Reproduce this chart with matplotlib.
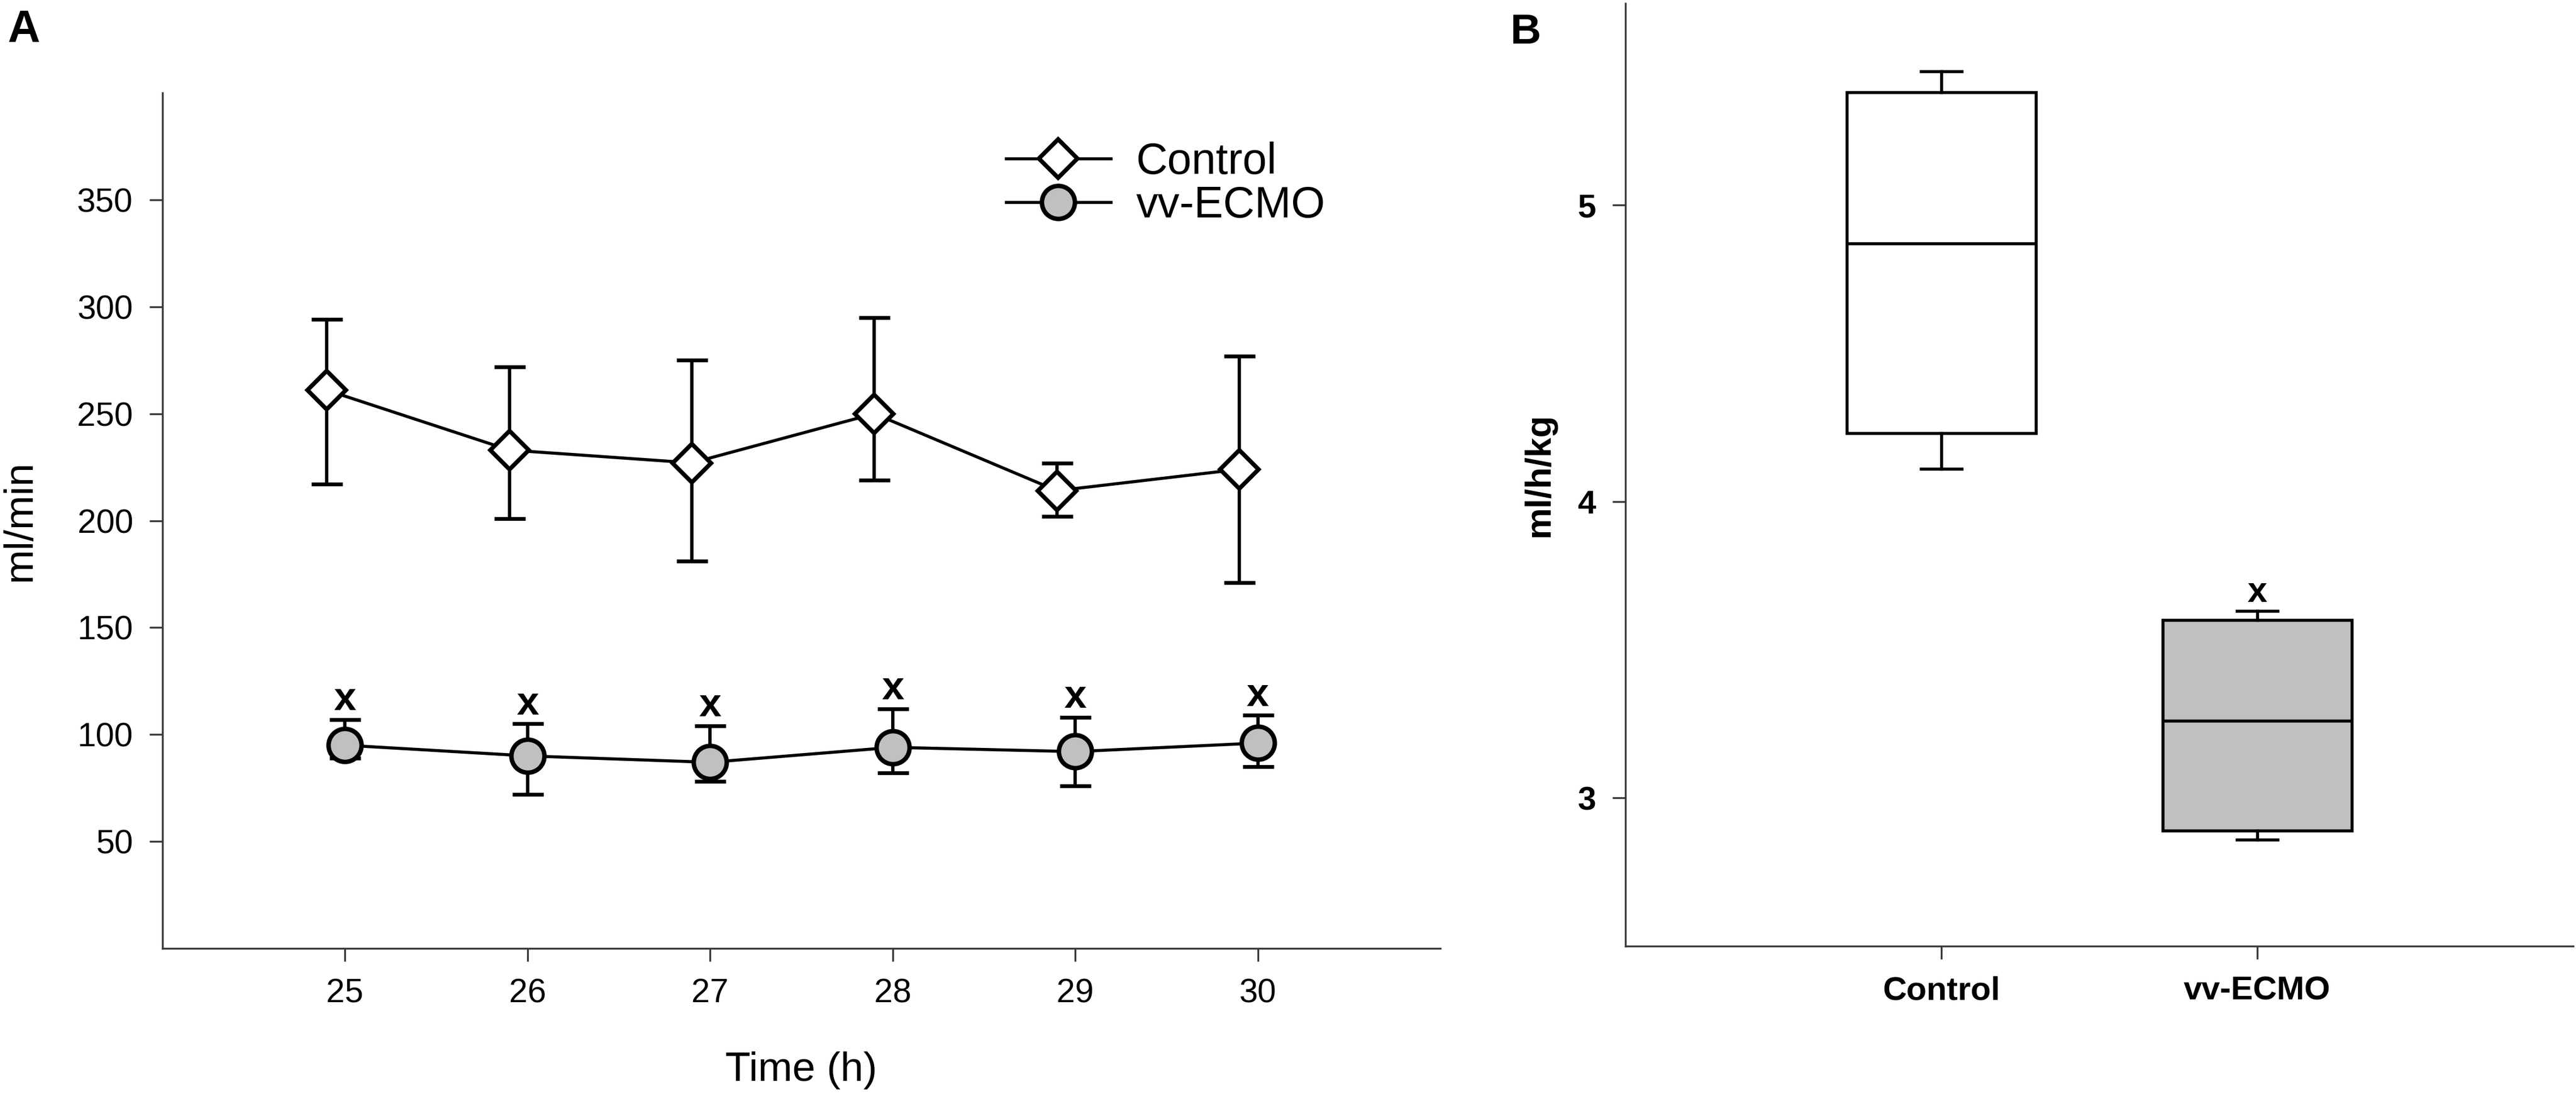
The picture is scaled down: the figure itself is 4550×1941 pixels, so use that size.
import matplotlib.pyplot as plt

plt.rcParams['font.family'] = ['Liberation Sans', 'DejaVu Sans']

# Panel A: mean and error bar ends
hours = [25, 26, 27, 28, 29, 30]
ctrl_mean = [261, 233, 227, 250, 214, 224]
ctrl_hi = [294, 272, 275, 295, 227, 277]
ctrl_lo = [217, 201, 181, 219, 202, 171]
ecmo_mean = [95, 90, 87, 94, 92, 96]
ecmo_hi = [107, 105, 104, 112, 108, 109]
ecmo_lo = [89, 72, 78, 82, 76, 85]

# Panel B: box plot statistics
groups = ['Control', 'vv-ECMO']
whis_lo = [4.11, 2.86]
q1 = [4.23, 2.89]
med = [4.87, 3.26]
q3 = [5.38, 3.60]
whis_hi = [5.45, 3.63]
box_fill = ['white', '#c0c0c0']

W, H = 4550, 1941
fig = plt.figure(figsize=(W / 300, H / 300), dpi=300)

def frac(x0, y0, x1, y1):
    # pixel box -> figure fractions
    return [x0 / W, 1 - y1 / H, (x1 - x0) / W, (y1 - y0) / H]

axA = fig.add_axes(frac(287, 164, 2544, 1675))
axB = fig.add_axes(frac(2871, 6, 4545, 1671))

spine_col = '#3a3a3a'
for ax in (axA, axB):
    for s in ('top', 'right'):
        ax.spines[s].set_visible(False)
    for s in ('left', 'bottom'):
        ax.spines[s].set_linewidth(0.8)
        ax.spines[s].set_color(spine_col)
    ax.tick_params(width=0.8, color=spine_col, length=5.5)

# ---- panel A
shift = 0.1
xc = [h - shift for h in hours]
err_kw = dict(fmt='none', ecolor='black', elinewidth=1.4, capsize=6.6, capthick=1.6, zorder=2)
axA.errorbar(xc, ctrl_mean,
             yerr=[[m - l for m, l in zip(ctrl_mean, ctrl_lo)],
                   [u - m for m, u in zip(ctrl_mean, ctrl_hi)]], **err_kw)
axA.errorbar(hours, ecmo_mean,
             yerr=[[m - l for m, l in zip(ecmo_mean, ecmo_lo)],
                   [u - m for m, u in zip(ecmo_mean, ecmo_hi)]], **err_kw)
axA.plot(xc, ctrl_mean, color='black', lw=1.3, marker='D', ms=11.5,
         mfc='white', mec='black', mew=1.8, zorder=3, label='Control')
axA.plot(hours, ecmo_mean, color='black', lw=1.3, marker='o', ms=14.0,
         mfc='#c0c0c0', mec='black', mew=1.9, zorder=3, label='vv-ECMO')

for h, u in zip(hours, ecmo_hi):
    axA.annotate('x', (h, u), xytext=(0, 4), textcoords='offset points',
                 ha='center', va='baseline', fontsize=17, fontweight='bold')

axA.set_xlim(24, 31)
axA.set_ylim(0, 400)
axA.set_xticks(hours)
axA.set_yticks(range(50, 351, 50))
axA.tick_params(axis='both', labelsize=14.2, pad=7)
axA.set_xlabel('Time (h)', fontsize=17.5, labelpad=18)
axA.set_ylabel('ml/min', fontsize=17.5, labelpad=16)

axA.legend(loc='upper left', bbox_to_anchor=(0.660, 0.943), frameon=False,
           fontsize=18.5, handlelength=2.4, handletextpad=0.58,
           labelspacing=0.05, borderpad=0, borderaxespad=0)

# ---- panel B
stats = [dict(whislo=a, q1=b, med=c, q3=d, whishi=e, label=g)
         for a, b, c, d, e, g in zip(whis_lo, q1, med, q3, whis_hi, groups)]
bp = axB.bxp(stats, positions=[1, 2], widths=0.6, patch_artist=True,
             showfliers=False, capwidths=0.13,
             boxprops=dict(linewidth=1.3, edgecolor='black'),
             medianprops=dict(color='black', linewidth=1.3),
             whiskerprops=dict(color='black', linewidth=1.3),
             capprops=dict(color='black', linewidth=1.3))
for patch, c in zip(bp['boxes'], box_fill):
    patch.set_facecolor(c)

axB.annotate('x', (2, whis_hi[1]), xytext=(0, 4), textcoords='offset points',
             ha='center', va='baseline', fontsize=15, fontweight='bold')

axB.set_xlim(0, 3)
axB.set_ylim(2.5, 5.68)
axB.set_yticks([3, 4, 5])
axB.set_xticks([1, 2])
axB.set_xticklabels(groups)
axB.tick_params(axis='both', labelsize=14, pad=7)
for lab in axB.get_xticklabels() + axB.get_yticklabels():
    lab.set_fontweight('bold')
axB.set_ylabel('ml/h/kg', fontsize=15, fontweight='bold', labelpad=9)

fig.text(13 / W, 1 - 74 / H, 'A', fontsize=19, fontweight='bold', ha='left', va='baseline')
fig.text(2668 / W, 1 - 77 / H, 'B', fontsize=18, fontweight='bold', ha='left', va='baseline')

plt.savefig('out.png', dpi=300)
